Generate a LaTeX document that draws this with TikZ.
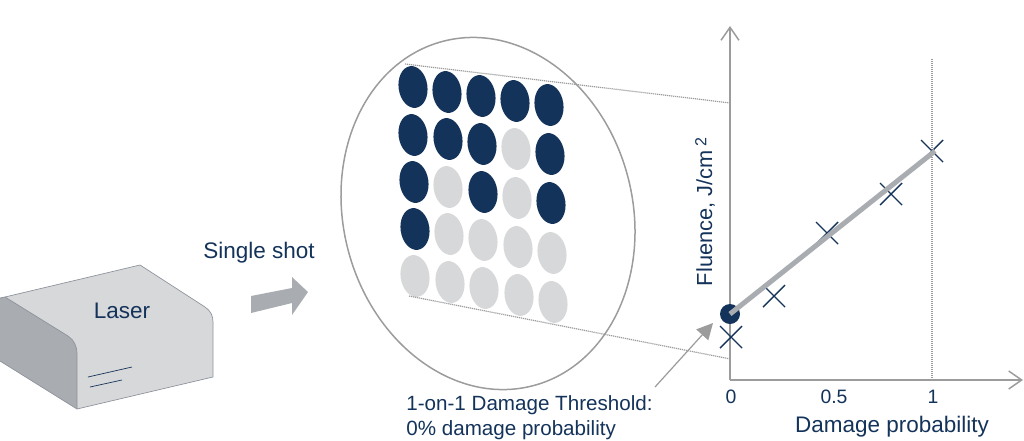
\documentclass[tikz,border=0pt]{standalone}
\usepackage{fontspec}
\setmainfont{Liberation Sans}
\usepackage{xcolor}
\usetikzlibrary{positioning,%
  arrows.meta,%
  shapes.geometric%
}
\definecolor{navy}{HTML}{14335A}
\definecolor{lightgray}{HTML}{D7D8DA}
\definecolor{midgray}{HTML}{A9ACB0}
\definecolor{axisgray}{HTML}{9C9C9C}
\definecolor{caseedge}{HTML}{8E949C}
\tikzset{
  label12/.style={text=navy,font=\fontsize{11.25}{13}\selectfont,inner sep=0pt},
  label10/.style={text=navy,font=\fontsize{10.3}{12.6}\selectfont,inner sep=0pt,align=left},
  ticklabel/.style={text=navy,font=\fontsize{9.7}{12}\selectfont,inner sep=0pt},
  spot/.style={ellipse,minimum width=14.4pt,minimum height=21pt,inner sep=0pt,rotate=8},
  spotdark/.style={spot,fill=navy},
  spotgray/.style={spot,fill=lightgray},
  axis/.style={draw=axisgray,line width=.75pt,-{Straight Barb[length=6.5pt,width=9pt,line width=.75pt]}},
  guide/.style={draw=axisgray,line width=.6pt,dash pattern=on .6pt off .4pt},
  caseline/.style={draw=navy,line width=.35pt},
  caseside/.style={draw=caseedge,line width=.35pt}
}
\begin{document}
\begin{tikzpicture}[x=.5pt,y=-.5pt]
  \useasboundingbox (0,0) rectangle (1024,440);

  % laser box
  \fill [lightgray] (5,297) -- (140,265) -- (205,307) .. controls (211,311) and (213,316) .. (213,322)
    -- (213,377) -- (77,409) -- (77,354) .. controls (77,346) and (74,340) .. (68,336) -- cycle;
  \fill [midgray] (0,298) -- (5,297) -- (68,336) .. controls (74,340) and (77,346) .. (77,354)
    -- (77,409) -- (0,361) -- cycle;
  \draw [caseside] (0,298) -- (5,297) -- (140,265) -- (205,307)
    .. controls (211,311) and (213,316) .. (213,322) -- (213,377) -- (77,409) -- (0,361);
  \draw [caseside] (5,297) -- (68,336) .. controls (74,340) and (77,346) .. (77,354) -- (77,409);
  \draw [caseline] (88,377) -- (132,367);
  \draw [caseline] (90,387) -- (122,380);
  \node [label12] (laser) at (122,311) {Laser};

  % shot arrow
  \node [label12] (shot) at (259,253) {Single shot};
  \fill [midgray] (251,296) -- (292,288) -- (292,277) -- (308,292) -- (292,315) -- (292,303) -- (251,313) -- cycle;

  % sample
  \node [ellipse,draw=axisgray,line width=.75pt,minimum width=144.6pt,minimum height=178pt,inner sep=0pt,rotate=14.7] (sample) at (488,213.5) {};

  \foreach \r/\c/\x/\y/\kind in {
    1/1/413/87/spotdark,1/2/447/92/spotdark,1/3/481/96/spotdark,1/4/515/101/spotdark,1/5/549/105/spotdark,
    2/1/413/135/spotdark,2/2/448/139/spotdark,2/3/482/144/spotdark,2/4/516/149/spotgray,2/5/550/154/spotdark,
    3/1/414/182/spotdark,3/2/448/187/spotgray,3/3/483/192/spotdark,3/4/517/198/spotgray,3/5/551/203/spotdark,
    4/1/415/229/spotdark,4/2/449/234/spotgray,4/3/483/240/spotgray,4/4/518/247/spotgray,4/5/552/253/spotgray,
    5/1/415/276/spotgray,5/2/450/282/spotgray,5/3/484/288/spotgray,5/4/519/295/spotgray,5/5/553/302/spotgray}
    \node [\kind] (s-\r-\c) at (\x,\y) {};

  % plot
  \coordinate (origin) at (730,380);
  \coordinate (ytop) at (730,26);
  \coordinate (xend) at (1023,380);
  \coordinate (fulltop) at (932,59);
  \coordinate (fullbot) at (932,380);
  \coordinate (zoomA) at (405,64);
  \coordinate (zoomB) at (730.5,103);
  \coordinate (zoomC) at (409,296);
  \coordinate (zoomD) at (730.5,359);
  \draw [guide] (zoomA) -- (zoomB);
  \draw [guide] (zoomC) -- (zoomD);
  \draw [guide] (fulltop) -- (fullbot);
  \draw [axis] (origin) -- (ytop);
  \draw [axis] (origin) -- (xend);

  \node [circle,fill=navy,minimum size=10pt,inner sep=0pt] (thresh) at (730,314) {};
  \coordinate (fitend) at (935,151);
  \foreach \x/\y in {731/337,774/296,827/233,891/194,932/151}
    \draw [navy,line width=.7pt] (\x-11,\y-11) -- (\x+11,\y+11) (\x+11,\y-11) -- (\x-11,\y+11);
  \draw [midgray,line width=2.5pt] (thresh.center) -- (fitend);

  \node [ticklabel] (tick0) at (731,397) {0};
  \node [ticklabel] (tick5) at (834,397) {0.5};
  \node [ticklabel] (tick1) at (933,397) {1};
  \node [label12] (xlabel) at (892,427) {Damage probability};
  \node [label12,rotate=90,font=\fontsize{10.9}{13}\selectfont] (ylabel) at (705,212) {Fluence, J/cm\,\raisebox{.5ex}{\fontsize{8}{9}\selectfont 2}};

  % threshold note
  \node [label10,anchor=north west] (note) at (406,395) {1-on-1 Damage Threshold:\\0\% damage probability};
  \coordinate (noteend) at (655,387);
  \coordinate (notetip) at (713,323);
  \draw [draw=axisgray,fill=axisgray,line width=.6pt,-{Triangle[length=8pt,width=8pt]}] (noteend) -- (notetip);
\end{tikzpicture}
\end{document}
